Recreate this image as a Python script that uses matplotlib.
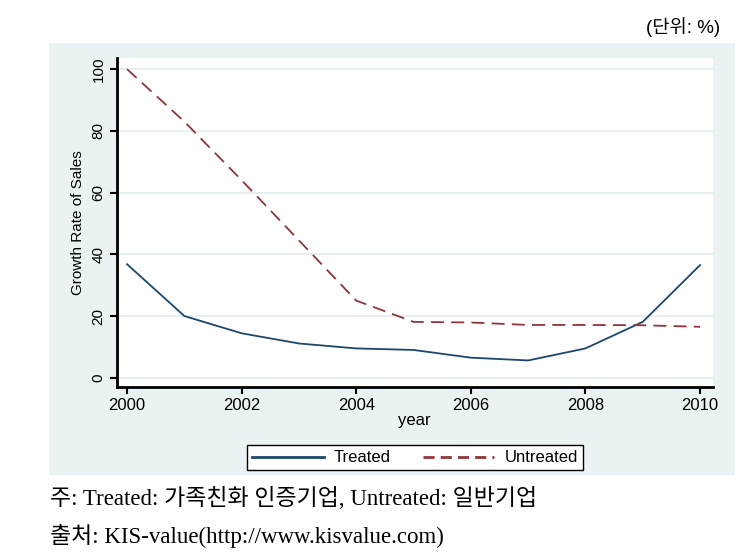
import matplotlib
matplotlib.use('Agg')
import matplotlib.pyplot as plt
from matplotlib.patches import Rectangle

years = [2000, 2001, 2002, 2003, 2004, 2005, 2006, 2007, 2008, 2009, 2010]
treated = [36.8, 20.0, 14.4, 11.1, 9.5, 9.0, 6.5, 5.6, 9.5, 18.1, 36.5]
untreated = [100.0, 83.0, 64.0, 44.5, 25.0, 18.1, 17.9, 17.1, 17.1, 17.0, 16.5]

x_ticks = [2000, 2002, 2004, 2006, 2008, 2010]
y_ticks = [0, 20, 40, 60, 80, 100]

navy = '#1a476f'
maroon = '#90353b'
panel_bg = '#eaf2f3'

plt.rcParams['font.family'] = ['Liberation Sans', 'Noto Sans CJK KR']

fig = plt.figure(figsize=(7.52, 5.6), dpi=100)

# stata-like grey panel behind the plot
fig.patches.append(Rectangle((0.0652, 0.152), 0.9118, 0.771, transform=fig.transFigure,
                             facecolor=panel_bg, edgecolor='none', zorder=-10))

ax = fig.add_axes([0.1552, 0.3095, 0.7925, 0.5869])
ax.set_facecolor('white')

ax.plot(years, treated, color=navy, lw=1.3, label='Treated')
ax.plot(years, untreated, color=maroon, lw=1.3, dashes=(7.2, 4.0), label='Untreated')

ax.set_xlim(1999.82, 2010.22)
ax.set_ylim(-2.9, 103.6)
ax.set_xticks(x_ticks)
ax.set_yticks(y_ticks)
ax.set_xticklabels([str(v) for v in x_ticks], fontsize=12)
ax.set_yticklabels([str(v) for v in y_ticks], fontsize=11, rotation=90, va='center')
ax.tick_params(axis='both', direction='out', length=5, width=1.5, colors='black')
ax.tick_params(axis='x', pad=3)
ax.tick_params(axis='y', pad=3)

for s in ['top', 'right']:
    ax.spines[s].set_visible(False)
for s in ['left', 'bottom']:
    ax.spines[s].set_linewidth(2)

ax.yaxis.grid(True, color='#e6eeee', lw=1.3)
ax.set_axisbelow(True)

ax.set_ylabel('Growth Rate of Sales', fontsize=11, labelpad=5)
ax.set_xlabel('year', fontsize=12, labelpad=0)

leg = ax.legend(loc='upper center', bbox_to_anchor=(0.552, 0.2196),
                bbox_transform=fig.transFigure, ncol=2, fontsize=12,
                frameon=True, fancybox=False, edgecolor='black', framealpha=1,
                handlelength=4.3, handletextpad=0.6, columnspacing=1.9, borderpad=0.3)
leg.get_frame().set_linewidth(1.0)
for line in leg.get_lines():
    line.set_linewidth(2.0)
leg.get_lines()[1].set_dashes((4.0, 2.2))

fig.text(0.958, 0.952, '(단위: %)', ha='right', va='center', fontsize=13.5)

fig.text(0.066, 0.11, '주: Treated: 가족친화 인증기업, Untreated: 일반기업',
         ha='left', va='center', fontsize=16.5,
         family=['Liberation Serif', 'Noto Sans CJK KR'])
fig.text(0.066, 0.043, '출처: KIS-value(http://www.kisvalue.com)',
         ha='left', va='center', fontsize=16.5,
         family=['Liberation Serif', 'Noto Sans CJK KR'])

fig.savefig('out.png', dpi=100)
